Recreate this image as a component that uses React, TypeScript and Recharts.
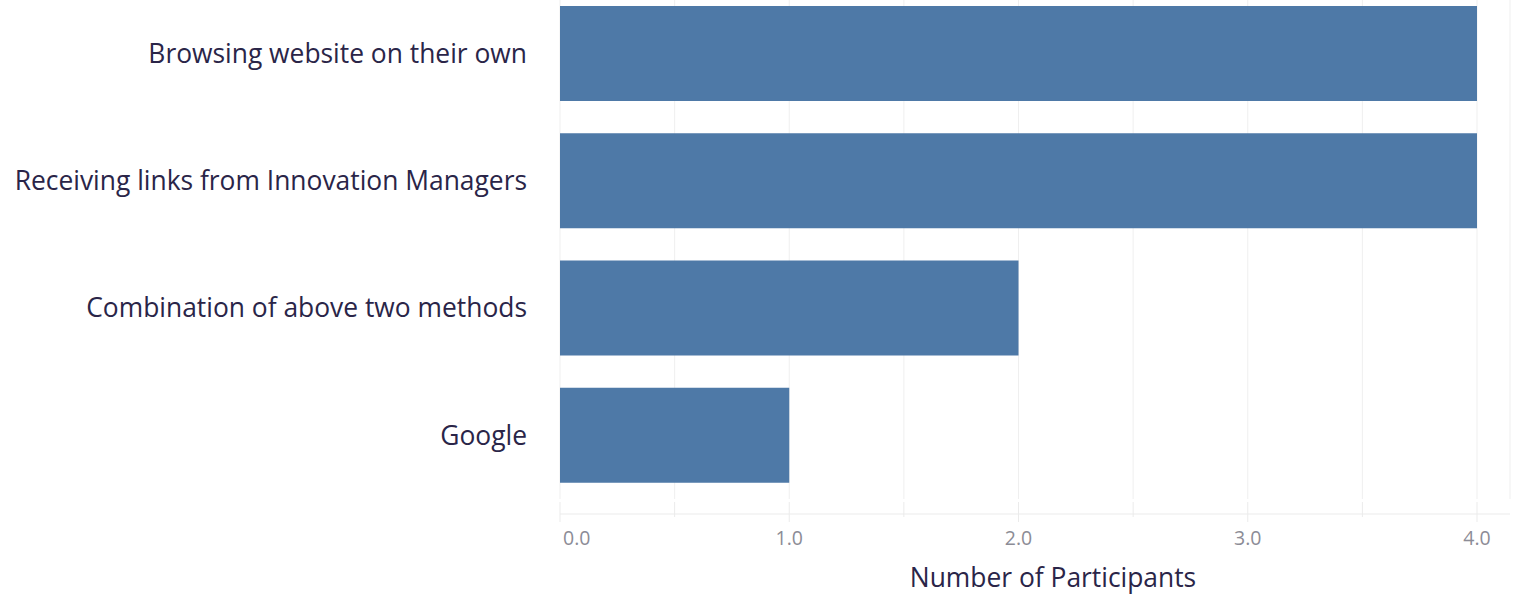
import React from "react";
import { BarChart, Bar, XAxis, YAxis, CartesianGrid } from "recharts";

const categories = [
  "Browsing website on their own",
  "Receiving links from Innovation Managers",
  "Combination of above two methods",
  "Google",
];
const participants = [4, 4, 2, 1];
const xTicks = [0, 0.5, 1, 1.5, 2, 2.5, 3, 3.5, 4];

const data = categories.map((name, i) => ({ name, value: participants[i] }));

const FONT = '"Open Sans", sans-serif';
const TEXT = "#2a2548";

const XTick = ({ x, y, payload }: any) => {
  const v = payload.value;
  const major = Number.isInteger(v);
  return (
    <g>
      <line x1={x} x2={x} y1={y - 12} y2={y + (major ? 8 : 3)} stroke="#ebebeb" />
      {major && (
        <text
          x={v === 0 ? x + 3 : x}
          y={y + 31}
          textAnchor={v === 0 ? "start" : "middle"}
          fill="#8c8c96"
          fontSize={19.5}
          fontFamily={FONT}
        >
          {v.toFixed(1)}
        </text>
      )}
    </g>
  );
};

const AxisTitle = ({ viewBox }: any) => (
  <text
    x={viewBox.x + viewBox.width / 2 + 18}
    y={viewBox.y + 73}
    textAnchor="middle"
    fill={TEXT}
    fontSize={26.4}
    fontFamily={FONT}
  >
    Number of Participants
  </text>
);

export default function App() {
  return (
    <div style={{ position: "absolute", left: 0, top: -10, background: "#fff" }}>
      <BarChart
        width={1517}
        height={606}
        data={data}
        layout="vertical"
        margin={{ top: 0, right: 7, bottom: 0, left: 0 }}
      >
        <CartesianGrid horizontal={false} stroke="#efefef" y={0} height={509} />
        <XAxis
          type="number"
          domain={[0, 4]}
          ticks={xTicks}
          interval={0}
          padding={{ left: 0, right: 33 }}
          height={82}
          tickSize={0}
          tickMargin={0}
          tickLine={false}
          axisLine={{ stroke: "#ebebeb" }}
          tick={<XTick />}
          label={<AxisTitle />}
        />
        <YAxis
          type="category"
          dataKey="name"
          width={560}
          padding={{ top: 0, bottom: 15 }}
          axisLine={false}
          tickLine={false}
          tickSize={0}
          tickMargin={33}
          tick={{ fill: TEXT, fontSize: 26.4, fontFamily: FONT }}
        />
        <Bar dataKey="value" fill="#4e79a7" barSize={95} isAnimationActive={false} />
      </BarChart>
    </div>
  );
}
